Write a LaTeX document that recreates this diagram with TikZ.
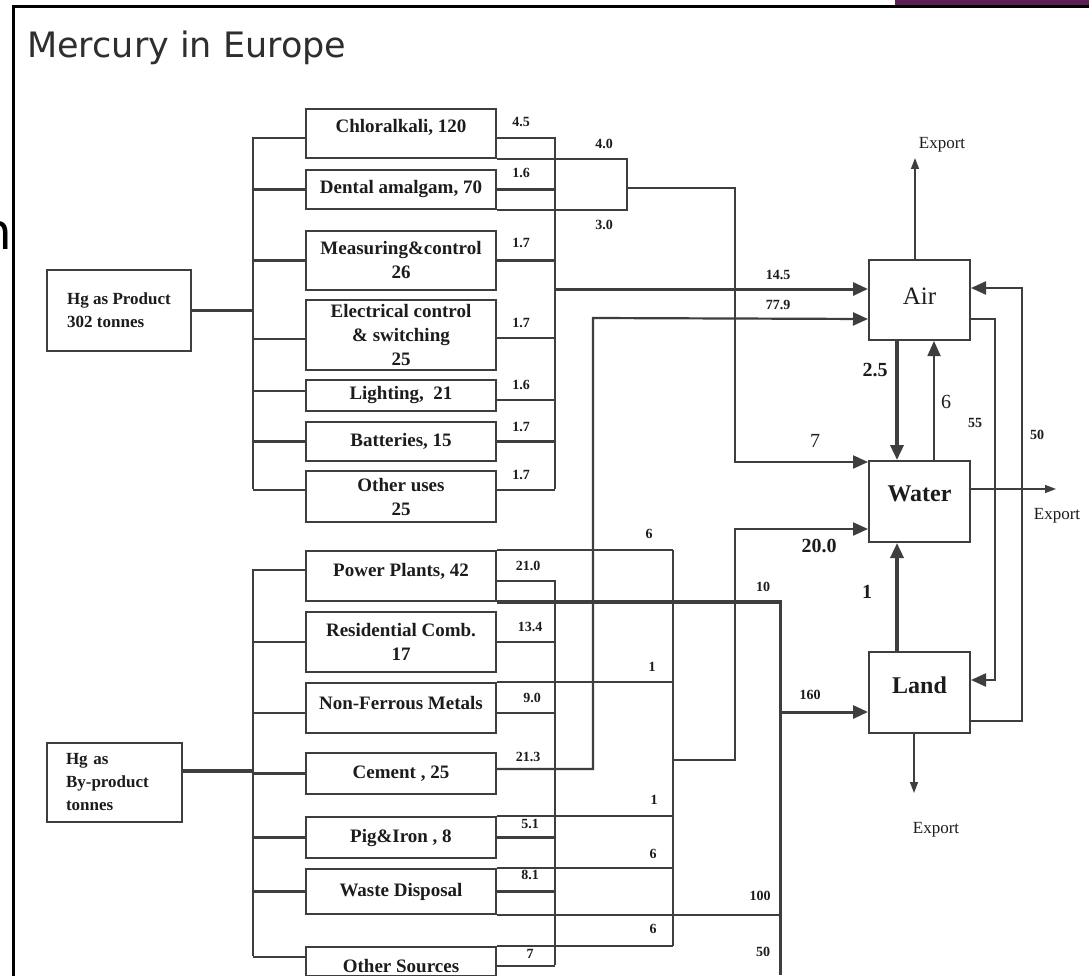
\documentclass[tikz,border=0pt]{standalone}
\usepackage{fontspec}
\setmainfont{Liberation Serif}
\newfontfamily\titlefont{DejaVu Sans}
\usetikzlibrary{arrows.meta}
\definecolor{ink}{HTML}{3E3E3E}
\definecolor{txt}{HTML}{1C1C1C}
\definecolor{titlegray}{HTML}{2E2E2E}
\definecolor{plum}{HTML}{5E1E55}

\begin{document}
\begin{tikzpicture}[x=1pt,y=-1pt,
  flow/.style={draw=ink, line width=2.2pt},
  heavy/.style={draw=ink, line width=3.4pt},
  thinflow/.style={draw=ink, line width=1.4pt},
  tip/.style={-{Triangle[length=15pt,width=13pt]}},
  smalltip/.style={-{Triangle[length=11pt,width=8pt]}},
  box/.style={draw=ink, line width=2pt, inner sep=0pt, align=center, text=txt,
    font=\bfseries\fontsize{19}{24}\selectfont, anchor=north west, minimum width=190pt},
  src/.style={draw=ink, line width=2pt, inner sep=0pt, align=left, text=txt,
    font=\bfseries\fontsize{17}{23}\selectfont, anchor=north west},
  comp/.style={draw=ink, line width=2pt, inner sep=0pt, text=txt, anchor=north west,
    minimum width=101pt, minimum height=81pt},
  num/.style={inner sep=0pt, text=txt, font=\bfseries\fontsize{14}{14}\selectfont},
  bignum/.style={inner sep=0pt, text=txt, font=\bfseries\fontsize{20}{20}\selectfont},
  plainnum/.style={inner sep=0pt, text=txt, font=\fontsize{20}{20}\selectfont},
  exportlab/.style={inner sep=0pt, text=txt, font=\fontsize{17}{17}\selectfont},
]
% page
\fill[white] (0,0) rectangle (1089,976);
\useasboundingbox (0,0) rectangle (1089,976);
\fill[plum] (895,0) rectangle (1089,5.5);
\node[anchor=base east, inner sep=0pt, font=\titlefont\fontsize{50}{50}\selectfont, text=black] (cutn) at (12.5,250) {n};
\draw[black, line width=2.4pt] (13.5,976) -- (13.5,6.5) -- (1089,6.5);
\node[anchor=base west, inner sep=0pt, text=titlegray, font=\titlefont\fontsize{35}{35}\selectfont] (title) at (27,58) {Mercury in Europe};

% sources
\node[src, minimum width=144pt, minimum height=81pt] (hgp) at (46,269) {Hg as Product\\302 tonnes};
\node[src, minimum width=135pt, minimum height=79pt, text width=97pt] (hgb) at (46,742) {Hg as\\By-product\\tonnes};

% product uses
\node[box, minimum height=49pt, text depth=15pt] (chlor) at (305,108) {Chloralkali, 120};
\node[box, minimum height=39pt] (dental) at (305,169) {Dental amalgam, 70};
\node[box, minimum height=59pt] (meas) at (305,230) {Measuring\&control\\26};
\node[box, minimum height=70pt] (elec) at (305,299) {Electrical control\\\& switching\\25};
\node[box, minimum height=31pt] (light) at (305,379) {Lighting,\ \ 21};
\node[box, minimum height=39pt] (batt) at (305,421) {Batteries, 15};
\node[box, minimum height=51pt] (ouse) at (305,470) {Other uses\\25};

% by-product sources
\node[box, minimum height=50pt, text depth=12pt] (power) at (305,550) {Power Plants, 42};
\node[box, minimum height=60pt] (resid) at (305,611) {Residential Comb.\\17};
\node[box, minimum height=50pt, text depth=10pt] (nonfe) at (305,682) {Non-Ferrous Metals};
\node[box, minimum height=41pt] (cement) at (305,752) {Cement , 25};
\node[box, minimum height=41pt] (pig) at (305,816) {Pig\&Iron , 8};
\node[box, minimum height=45pt] (waste) at (305,868) {Waste Disposal};
\node[box, minimum height=29pt, text height=22pt] (osrc) at (305,946) {Other Sources};

% compartments
\node[comp, minimum height=80pt, text depth=8pt, font=\fontsize{25}{25}\selectfont] (air) at (868,259) {Air};
\node[comp, text depth=15pt, font=\bfseries\fontsize{24}{24}\selectfont] (water) at (868,460) {Water};
\node[comp, text depth=15pt, font=\bfseries\fontsize{24}{24}\selectfont] (land) at (868,651) {Land};

% bus and junction points
\coordinate (pbT) at (253,137);  \coordinate (pbB) at (253,489);
\coordinate (prT) at (555,137);  \coordinate (prB) at (555,489);
\coordinate (loop) at (627,188);
\coordinate (w7) at (735,462);
\coordinate (c779) at (593,318);
\coordinate (bbT) at (253,569);  \coordinate (bbB) at (253,956);
\coordinate (lbT) at (555,580);  \coordinate (lbB) at (555,965);
\coordinate (sT) at (673,550);   \coordinate (sB) at (673,946);
\coordinate (s20) at (673,760);  \coordinate (w20) at (735,529);
\coordinate (tT) at (780,600);   \coordinate (tB) at (780,975);
\coordinate (expA) at (915,158); \coordinate (expW) at (1056,489); \coordinate (expL) at (914,793);
\coordinate (c55) at (995,680);  \coordinate (c50) at (1022,288);

% product group, left side
\draw[flow] (pbT) -- (pbB);
\draw[heavy] (hgp.east) -- (hgp.east -| pbT);
\draw[flow] ([yshift=-4.5pt]chlor.west) -- ([yshift=-4.5pt]chlor.west -| pbT);
\draw[flow] (dental.west) -- (dental.west -| pbT);
\draw[flow] (meas.west) -- (meas.west -| pbT);
\draw[flow] ([yshift=-4pt]elec.west) -- ([yshift=-4pt]elec.west -| pbT);
\draw[flow] ([yshift=4.5pt]light.west) -- ([yshift=4.5pt]light.west -| pbT);
\draw[flow] (batt.west) -- (batt.west -| pbT);
\draw[flow] ([yshift=6.5pt]ouse.west) -- ([yshift=6.5pt]ouse.west -| pbT);

% product group, emissions to air
\draw[flow] (prT) -- (prB);
\draw[flow] ([yshift=-4.5pt]chlor.east) -- ([yshift=-4.5pt]chlor.east -| prT);
\draw[flow] (dental.east) -- (dental.east -| prT);
\draw[flow] (meas.east) -- (meas.east -| prT);
\draw[flow] ([yshift=-3pt]elec.east) -- ([yshift=-3pt]elec.east -| prT);
\draw[flow] ([yshift=-4.5pt]light.east) -- ([yshift=-4.5pt]light.east -| prT);
\draw[flow] (batt.east) -- (batt.east -| prT);
\draw[flow] ([yshift=6.5pt]ouse.east) -- ([yshift=6.5pt]ouse.east -| prT);
\draw[flow, line width=3pt, tip] ([yshift=11pt]air.west -| prT) -- ([yshift=11pt]air.west);

% chloralkali and dental amalgam to water
\draw[flow, line width=2.8pt] (chlor.south east) -| (loop) |- (dental.south east);
\draw[flow, tip] (loop) -| (w7) -- ([yshift=-2pt]water.north west);

% by-product group, left side
\draw[flow] (bbT) -- (bbB);
\draw[heavy] ([yshift=11.5pt]hgb.east) -- ([yshift=11.5pt]hgb.east -| bbT);
\draw[flow] ([yshift=6pt]power.west) -- ([yshift=6pt]power.west -| bbT);
\draw[flow] (resid.west) -- (resid.west -| bbT);
\draw[flow] ([yshift=-5pt]nonfe.west) -- ([yshift=-5pt]nonfe.west -| bbT);
\draw[flow] (cement.west) -- (cement.west -| bbT);
\draw[flow] (pig.west) -- (pig.west -| bbT);
\draw[flow] (waste.west) -- (waste.west -| bbT);
\draw[flow] ([yshift=4.5pt]osrc.west) -- ([yshift=4.5pt]osrc.west -| bbT);

% by-product group, emissions to air
\draw[flow] (lbT) -- (lbB);
\draw[flow] ([yshift=-5pt]power.east) -- ([yshift=-5pt]power.east -| lbT);
\draw[flow] (resid.east) -- (resid.east -| lbT);
\draw[flow] ([yshift=-5pt]nonfe.east) -- ([yshift=-5pt]nonfe.east -| lbT);
\draw[flow] (pig.east) -- (pig.east -| lbT);
\draw[flow] (waste.east) -- (waste.east -| lbT);
\draw[flow] ([yshift=-4.5pt]osrc.east) -- ([yshift=-4.5pt]osrc.east -| lbT);
\draw[flow, tip] ([yshift=4.5pt]cement.east) -| (c779) -- ([yshift=-19pt]air.west);

% by-product group, releases to water
\draw[flow] (sT) -- (sB);
\draw[flow] (power.north east) -- (power.north east -| sT);
\draw[flow] (nonfe.north east) -- (nonfe.north east -| sT);
\draw[flow] (pig.north east) -- (pig.north east -| sT);
\draw[flow] (waste.north east) -- (waste.north east -| sT);
\draw[flow] (osrc.north east) -- (osrc.north east -| sT);
\draw[flow, tip] (s20) -| (w20) -- (water.west |- w20);

% by-product group, releases to land
\draw[heavy] (power.south east) -- (power.south east -| tT);
\draw[flow, line width=3pt] (tT) -- (tB);
\draw[flow] (waste.south east) -- (waste.south east -| tT);
\draw[flow] (osrc.south east) -- (osrc.south east -| tT);
\draw[flow, line width=3pt, tip] ([yshift=-19.5pt]land.west -| tT) -- ([yshift=-19.5pt]land.west);

% exchanges between compartments
\draw[heavy, tip] ([xshift=-22.5pt]air.south) -- ([xshift=-22.5pt]water.north);
\draw[thinflow, line width=1.8pt, tip] ([xshift=14.5pt]water.north) -- ([xshift=14.5pt]air.south);
\draw[heavy, tip] ([xshift=-22.5pt]land.north) -- ([xshift=-22.5pt]water.south);
\draw[flow, tip] ([yshift=-19pt]air.east) -| (c55) -- (land.east |- c55);
\draw[flow, tip] ([yshift=-28.5pt]land.east) -| (c50) -- (air.east |- c50);

% exports
\draw[thinflow, smalltip] (air.north -| expA) -- (expA);
\draw[thinflow, smalltip] (water.east |- expW) -- (expW);
\draw[thinflow, smalltip] (land.south -| expL) -- (expL);
\node[exportlab] (xa) at (942,145) {Export};
\node[exportlab] (xw) at (1057,516) {Export};
\node[exportlab] (xl) at (936,830) {Export};

% flow values, product group
\node[num] (n45) at (521,122) {4.5};
\node[num] (n40) at (604,144) {4.0};
\node[num] (n16a) at (521,173) {1.6};
\node[num] (n30) at (604,225) {3.0};
\node[num] (n17a) at (521,243) {1.7};
\node[num] (n17b) at (521,323) {1.7};
\node[num] (n16b) at (521,385) {1.6};
\node[num] (n17c) at (521,427) {1.7};
\node[num] (n17d) at (521,475) {1.7};
\node[num] (n145) at (778,275) {14.5};
\node[num] (n779) at (778,305) {77.9};

% flow values, by-product group
\node[num] (n6a) at (649,534) {6};
\node[num] (n210) at (528,566) {21.0};
\node[num] (n134) at (530,627) {13.4};
\node[num] (n1a) at (652,667) {1};
\node[num] (n90) at (532,698) {9.0};
\node[num] (n213) at (528,757) {21.3};
\node[num] (n1b) at (654,800) {1};
\node[num] (n51) at (530,824) {5.1};
\node[num] (n6b) at (653,854) {6};
\node[num] (n81) at (530,875) {8.1};
\node[num] (n100) at (760,896) {100};
\node[num] (n6c) at (653,929) {6};
\node[num] (n7s) at (530,954) {7};
\node[num] (n50s) at (763,952) {50};
\node[num] (n10) at (763,587) {10};
\node[num] (n160) at (810,695) {160};

% flow values between compartments
\node[bignum] (n25) at (875,370) {2.5};
\node[plainnum] (n6w) at (946,402) {6};
\node[num] (n55) at (975,423) {55};
\node[num] (n50) at (1037,435) {50};
\node[plainnum] (n7w) at (815,441) {7};
\node[bignum] (n200) at (819,546) {20.0};
\node[bignum] (n1l) at (867,592) {1};
\end{tikzpicture}
\end{document}
